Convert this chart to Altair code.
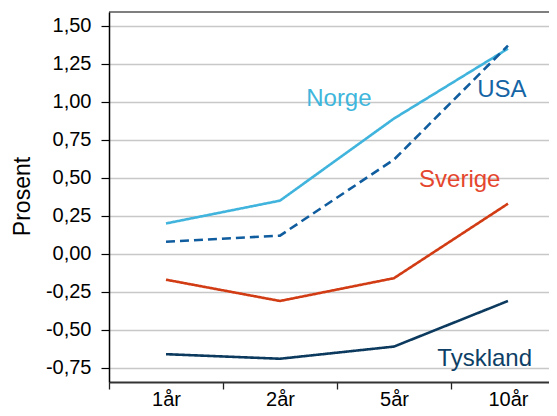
import altair as alt
import pandas as pd

categories = ["1år", "2år", "5år", "10år"]
series = ["Norge", "USA", "Sverige", "Tyskland"]
norge = [0.20, 0.35, 0.89, 1.35]
usa = [0.08, 0.12, 0.62, 1.37]
sverige = [-0.17, -0.31, -0.16, 0.33]
tyskland = [-0.66, -0.69, -0.61, -0.31]
y_ticks = [-0.75, -0.5, -0.25, 0.0, 0.25, 0.5, 0.75, 1.0, 1.25, 1.5]

# label anchors (in data units: category index, value)
label_x = [1.23, 2.73, 2.22, 2.38]
label_y = [0.97, 1.035, 0.443, -0.741]

line_colors = ["#40b4dc", "#0f5c9e", "#d23c14", "#0c3a5e"]
label_colors = ["#3fb6dc", "#1565a5", "#e5462e", "#0e3f66"]
dashes = [[1, 0], [9, 5], [1, 0], [1, 0]]

rows = []
for name, vals in zip(series, [norge, usa, sverige, tyskland]):
    for i, v in enumerate(vals):
        rows.append({"series": name, "idx": i, "value": v})
df = pd.DataFrame(rows)
lab = pd.DataFrame({"series": series, "x": label_x, "y": label_y})

FONT = "Liberation Sans"
W, H = 440, 370
Y_MIN, Y_MAX = -0.843, 1.591
xscale = alt.Scale(domain=[-0.5, 3.36], nice=False, zero=False)
yscale = alt.Scale(domain=[Y_MIN, Y_MAX], nice=False, zero=False)
label_expr_x = "[" + ",".join("'" + c + "'" for c in categories) + "][datum.value]"

lines = alt.Chart(df).mark_line(strokeWidth=2.6).encode(
    x=alt.X("idx:Q", scale=xscale, axis=alt.Axis(
        values=[0, 1, 2, 3], title=None, grid=False,
        labelExpr=label_expr_x, tickOffset=-57, labelOffset=57,
        tickSize=7, tickColor="#222", tickWidth=1.3,
        domainColor="#333", domainWidth=2,
        labelFontSize=20, labelFont=FONT, labelColor="#000", labelPadding=0)),
    y=alt.Y("value:Q", scale=yscale, axis=alt.Axis(
        values=y_ticks, title="Prosent", grid=True,
        gridColor="#c8c8c8", gridWidth=1.3,
        labelExpr="replace(replace(format(datum.value, '.2f'), '.', ','), '\u2212', '-')",
        tickSize=8, tickColor="#000", tickWidth=1.2,
        domainColor="#000", domainWidth=1.5,
        labelFontSize=20, labelFont=FONT, labelColor="#000", labelPadding=10,
        titleFontSize=23, titleFont=FONT, titleFontWeight="normal", titleColor="#000",
        titleX=-80, titleY=184, titleAlign="center", titleBaseline="alphabetic")),
    color=alt.Color("series:N", scale=alt.Scale(domain=series, range=line_colors), legend=None),
    strokeDash=alt.StrokeDash("series:N", scale=alt.Scale(domain=series, range=dashes), legend=None),
)

texts = alt.Chart(lab).mark_text(align="left", baseline="alphabetic", fontSize=24, font=FONT).encode(
    x=alt.X("x:Q", scale=xscale),
    y=alt.Y("y:Q", scale=yscale),
    text="series:N",
    color=alt.Color("series:N", scale=alt.Scale(domain=series, range=label_colors), legend=None),
)

top_border = alt.Chart(pd.DataFrame({"top": [Y_MAX]})).mark_rule(color="#000", strokeWidth=1.2).encode(
    y=alt.Y("top:Q", scale=yscale),
    x=alt.value(0),
    x2=alt.value(W),
)

chart = alt.layer(lines, texts, top_border).resolve_scale(color="independent").properties(
    width=W, height=H,
    autosize=alt.AutoSizeParams(type="none"),
    padding={"left": 101, "top": 4, "right": 0, "bottom": 26},
).configure_view(stroke=None)

chart.save("out.html", embed_options={"renderer": "svg", "actions": False})
